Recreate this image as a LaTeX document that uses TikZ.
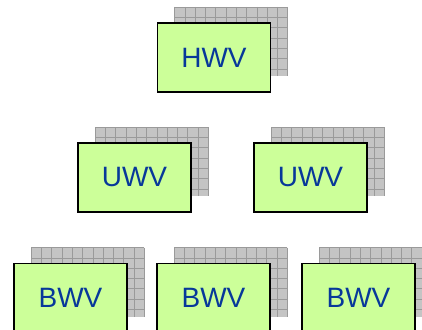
\documentclass[tikz,border=0pt]{standalone}
\usepackage{fontspec}
\setmainfont{Liberation Sans}
\definecolor{boxfill}{HTML}{CCFF99}
\definecolor{txtblue}{HTML}{07389A}
\definecolor{shfill}{HTML}{C4C4C4}
\definecolor{shline}{HTML}{9A9A9A}
\tikzset{
  wvbox/.style={draw=black, line width=1.6pt, fill=boxfill, minimum width=113pt, minimum height=69pt, inner sep=0pt, text=txtblue, font=\fontsize{28}{30}\selectfont},
  gridline/.style={shline, line width=0.6pt},
}
\newcommand{\shadowbox}[4]{% name, center x, center y, label
  \begin{scope}[shift={(#2+17-56.5,#3-16-34.5)}]
    \fill[shfill] (0,0) rectangle (113,69);
    \foreach \gx in {0,10.3,...,113} \draw[gridline] (\gx,0) -- (\gx,69);
    \foreach \gy in {0,10.3,...,69} \draw[gridline] (0,\gy) -- (113,\gy);
    \draw[gridline] (113,0) -- (113,69);
  \end{scope}
  \node[wvbox] (#1) at (#2,#3) {#4};
}
\begin{document}
\begin{tikzpicture}[x=1pt,y=-1pt]
\useasboundingbox[fill=white] (0,0) rectangle (422,329);
\shadowbox{hwv}{214}{57.5}{HWV}
\shadowbox{uwva}{134.5}{177.5}{UWV}
\shadowbox{uwvb}{310.5}{177.5}{UWV}
\shadowbox{bwva}{70.5}{298}{BWV}
\shadowbox{bwvb}{213.5}{298}{BWV}
\shadowbox{bwvc}{358.5}{298}{BWV}
\end{tikzpicture}
\end{document}
